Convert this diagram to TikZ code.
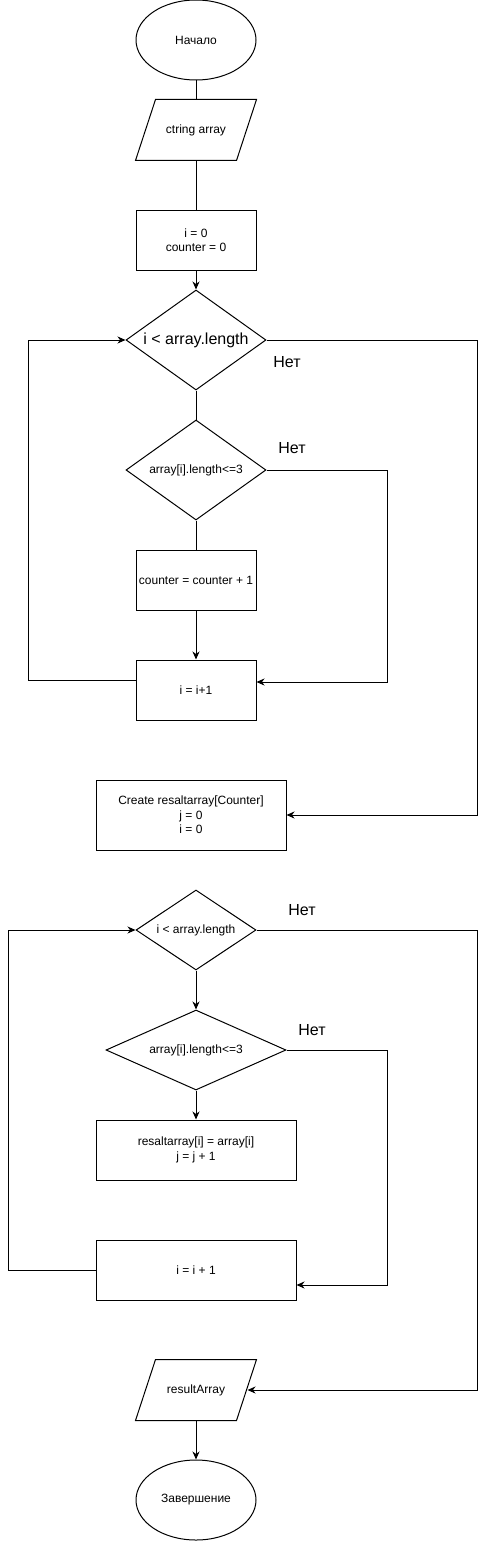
\documentclass[tikz,border=0pt]{standalone}
\usepackage{fontspec}
\setmainfont{Liberation Sans}
\usetikzlibrary{shapes.geometric,arrows.meta}
\begin{document}
\begin{tikzpicture}[x=1pt,y=-1pt,line width=1pt,
  every node/.style={font=\fontsize{12}{14.4}\selectfont,align=center,inner sep=0pt},
  box/.style={draw,rectangle,minimum height=60pt},
  term/.style={draw,ellipse,minimum width=120pt,minimum height=80pt},
  io/.style={rectangle,minimum width=120pt,minimum height=60pt},
  dec/.style={draw,diamond},
  arr/.style={-{Stealth[length=8pt,width=7pt,inset=2.5pt]}},
  lbl/.style={font=\fontsize{16}{19}\selectfont}]
\useasboundingbox (0,0) rectangle (486,1541);

\node[term] (start) at (196,40) {Начало};
\node[io] (in) at (196,130) {ctring array};
\draw ([xshift=20pt]in.north west) -- (in.north east) -- ([xshift=-20pt]in.south east) -- (in.south west) -- cycle;
\node[box,minimum width=120pt] (init) at (196,240) {i = 0\\counter = 0};
\node[dec,aspect=1.4,minimum width=140pt,minimum height=100pt,font=\fontsize{16}{19}\selectfont] (c1) at (196,340) {i < array.length};
\node[dec,aspect=1.4,minimum width=140pt,minimum height=100pt] (c2) at (196,470) {array[i].length<=3};
\node[box,minimum width=120pt] (inc) at (196,580) {counter = counter + 1};
\node[box,minimum width=120pt] (step1) at (196,690) {i = i+1};
\node[box,minimum width=190pt,minimum height=70pt] (create) at (191,815) {Create resaltarray[Counter]\\j = 0\\i = 0};
\node[dec,aspect=1.5,minimum width=120pt,minimum height=80pt] (c3) at (196,930) {i < array.length};
\node[dec,aspect=2.25,minimum width=180pt,minimum height=80pt] (c4) at (196,1050) {array[i].length<=3};
\node[box,minimum width=200pt] (assign) at (196,1150) {resaltarray[i] = array[i]\\j = j + 1};
\node[box,minimum width=200pt] (step2) at (196,1270) {i = i + 1};
\node[io] (out) at (196,1390) {resultArray};
\draw ([xshift=20pt]out.north west) -- (out.north east) -- ([xshift=-20pt]out.south east) -- (out.south west) -- cycle;
\node[term] (end) at (196,1500) {Завершение};

\node[lbl] (n1) at (287,362) {Нет};
\node[lbl] (n2) at (292,448) {Нет};
\node[lbl] (n3) at (302,910) {Нет};
\node[lbl] (n4) at (312,1030) {Нет};

\coordinate (xR) at (477,0);
\coordinate (xM) at (387,0);
\coordinate (xLa) at (28,0);
\coordinate (xLb) at (8,0);

\draw (start) -- (in);
\draw (in) -- (init);
\draw[arr] (init) -- (c1);
\draw (c1) -- (c2);
\draw (c2) -- (inc);
\draw[arr] (inc) -- (step1);
\draw[arr] (c1.east) -- (c1.east -| xR) |- (create.east);
\draw[arr] (c2.east) -- (c2.east -| xM) |- ([yshift=8pt]step1.east);
\draw[arr] ([yshift=10pt]step1.west) -- ([yshift=10pt]step1.west -| xLa) |- (c1.west);

\draw[arr] (c3.east) -- (c3.east -| xR) |- ([xshift=-9pt]out.east);
\draw[arr] (c3) -- (c4);
\draw[arr] (c4) -- (assign);
\draw[arr] (c4.east) -- (c4.east -| xM) |- ([yshift=-15pt]step2.east);
\draw[arr] (step2.west) -- (step2.west -| xLb) |- (c3.west);
\draw[arr] (out) -- (end);
\end{tikzpicture}
\end{document}
